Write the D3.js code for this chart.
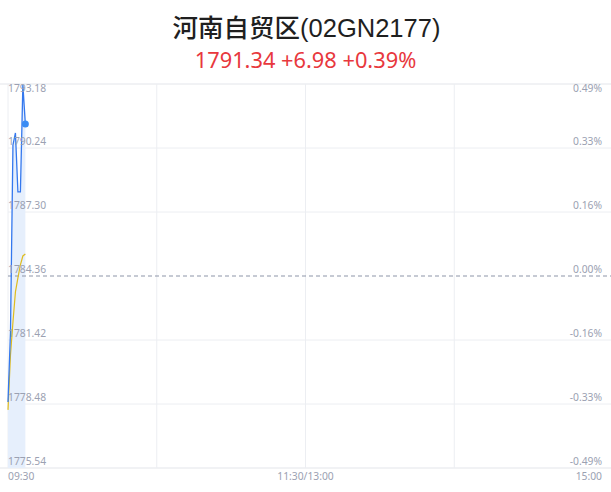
<!DOCTYPE html>
<html>
<head>
<meta charset="utf-8">
<script src="https://cdn.jsdelivr.net/npm/d3@7"></script>
<style>
	body { margin: 0; background: #fff; font-family: "Noto Sans CJK SC", "Noto Sans", sans-serif; }
	svg text { font-family: "Noto Sans", "Noto Sans CJK SC", sans-serif; }
</style>
</head>
<body>
<svg id="chart" width="611" height="492"></svg>
<script>
const Width = 611;
const Height = 492;

const title = "河南自贸区(02GN2177)";
const quote = "1791.34 +6.98 +0.39%";
const preClose = 1784.36;
// minute index from 09:30 (0) to 15:00 (240), lunch break collapsed
const minutes = [0, 1, 2, 3, 4, 5, 6, 7];
const prices = [1778.57, 1781.8, 1790.38, 1790.93, 1788.22, 1788.22, 1793.13, 1791.34];
const averages = [1778.21, 1780.73, 1782.25, 1783.63, 1784.27, 1784.87, 1785.28, 1785.37];
const priceTicks = [1775.54, 1778.48, 1781.42, 1784.36, 1787.30, 1790.24, 1793.18];
const timeTicks = [0, 120, 240];
const timeLabels = ["09:30", "11:30/13:00", "15:00"];

const svg = d3.select("#chart");
const plotLeft = 8, plotRight = 603, plotTop = 84, plotBottom = 468;

// title block
svg.append("text").attr("x", Width / 2 + 1).attr("y", 37).attr("text-anchor", "middle")
	.attr("font-size", 25.5).attr("font-weight", 500).attr("fill", "#1f1f1f")
	.style("font-family", "'Liberation Sans', 'Noto Sans CJK SC', sans-serif").text(title);
svg.append("text").attr("x", Width / 2).attr("y", 68).attr("text-anchor", "middle")
	.attr("font-size", 21.8).attr("fill", "#e8383d")
	.style("font-family", "'Noto Sans', sans-serif").text(quote);

const x = d3.scaleLinear().domain([0, 240]).range([plotLeft, plotRight]);
const y = d3.scaleLinear().domain([priceTicks[0], priceTicks[priceTicks.length - 1]]).range([plotBottom, plotTop]);

// horizontal grid
svg.append("line").attr("x1", 0).attr("x2", Width).attr("y1", plotTop).attr("y2", plotTop).attr("stroke", "#e3e5ea");
svg.append("g").selectAll("line").data(priceTicks.slice(0, -1).filter(t => t !== preClose)).enter().append("line")
	.attr("x1", d => d === priceTicks[0] ? 0 : plotLeft).attr("x2", Width).attr("y1", d => y(d)).attr("y2", d => y(d))
	.attr("stroke", d => d === priceTicks[0] ? "#e3e5ea" : "#eceef2");
// vertical grid
svg.append("g").selectAll("line").data([0, 60, 120, 180]).enter().append("line")
	.attr("x1", d => x(d)).attr("x2", d => x(d)).attr("y1", plotTop).attr("y2", plotBottom)
	.attr("stroke", "#eceef2");

// blue area under price line
svg.append("path").datum(minutes)
	.attr("fill", "#e6effc")
	.attr("d", d3.area().x(d => x(d)).y0(plotBottom).y1((d, i) => y(prices[i])));

// pre-close dashed line
svg.append("line").attr("x1", plotLeft).attr("x2", Width).attr("y1", y(preClose)).attr("y2", y(preClose))
	.attr("stroke", "#8d95a8").attr("stroke-dasharray", "4,3");

// average line
svg.append("path").datum(minutes).attr("fill", "none").attr("stroke", "#dfbc1e").attr("stroke-width", 1.2)
	.attr("d", d3.line().x(d => x(d)).y((d, i) => y(averages[i])));
// price line
svg.append("path").datum(minutes).attr("fill", "none").attr("stroke", "#3478ee").attr("stroke-width", 1.3)
	.attr("d", d3.line().x(d => x(d)).y((d, i) => y(prices[i])));
// last point
svg.append("circle").attr("cx", x(minutes[minutes.length - 1])).attr("cy", y(prices[prices.length - 1]))
	.attr("r", 3.5).attr("fill", "#3a8cf4");

// price labels (left) and percent labels (right)
const fmtPct = d => {
	const p = (d - preClose) / preClose * 100;
	return (Math.abs(p) < 0.005 ? "0.00" : p.toFixed(2)) + "%";
};
const labelY = (d, i) => i === priceTicks.length - 1 ? y(d) + 8 : y(d) - 3;
svg.append("g").selectAll("text").data(priceTicks).enter().append("text")
	.attr("x", plotLeft).attr("y", labelY).attr("font-size", 10.3).attr("fill", "#9ba1b2")
	.text(d => d.toFixed(2));
svg.append("g").selectAll("text").data(priceTicks).enter().append("text")
	.attr("x", plotRight - 1).attr("y", labelY).attr("font-size", 10.3).attr("fill", "#9ba1b2")
	.attr("text-anchor", "end").text(fmtPct);

// time labels
svg.append("g").selectAll("text").data(timeTicks).enter().append("text")
	.attr("x", d => x(d) + (d === 240 ? -1 : 0)).attr("y", 480).attr("font-size", 10.3).attr("fill", "#9ba1b2")
	.attr("text-anchor", (d, i) => ["start", "middle", "end"][i])
	.text((d, i) => timeLabels[i]);
</script>
</body>
</html>
